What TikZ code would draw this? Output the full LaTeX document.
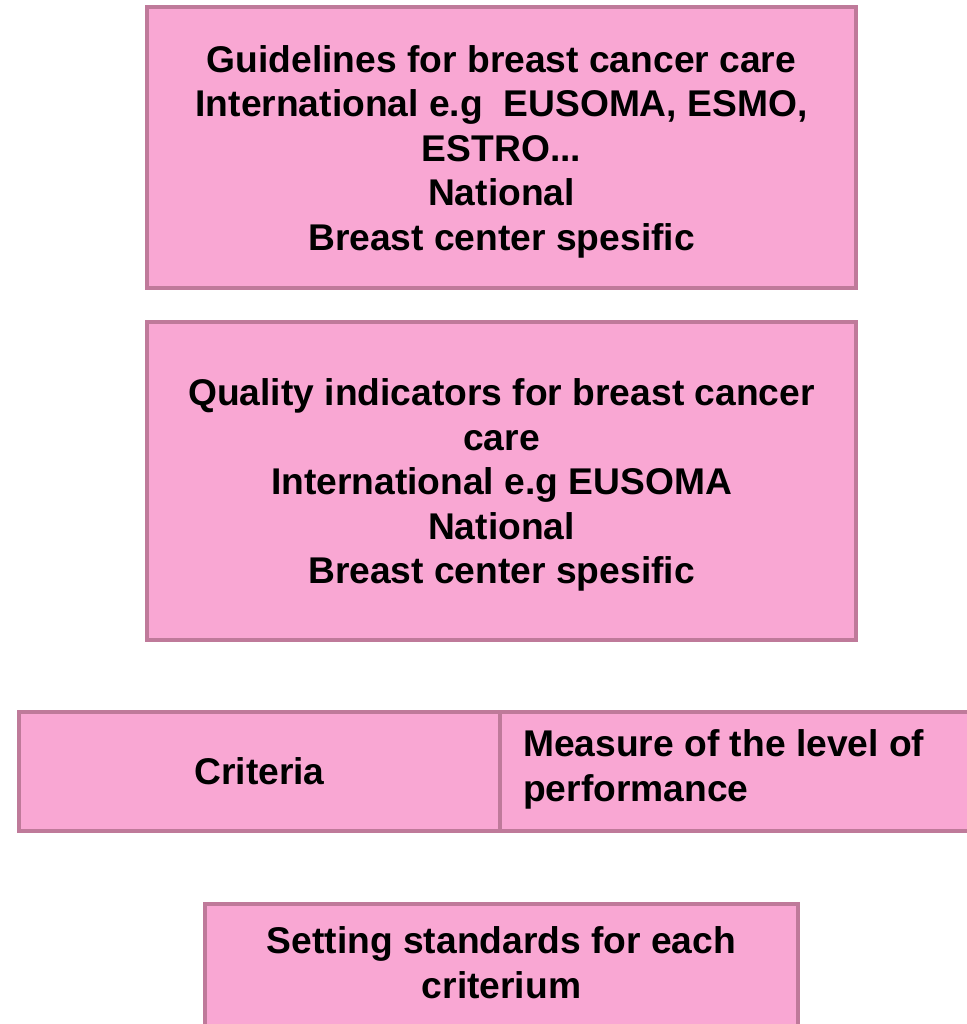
\documentclass[tikz,border=0pt]{standalone}
\usepackage{fontspec}
\setmainfont{Liberation Sans}
\definecolor{boxfill}{HTML}{F9A7D3}
\definecolor{boxline}{HTML}{BF7A9A}
\begin{document}
\begin{tikzpicture}[x=1pt,y=-1pt,
  box/.style={draw=boxline,fill=boxfill,line width=4.5pt,inner sep=0pt,outer sep=0pt},
  txt/.style={font=\fontsize{37.2}{44.5}\selectfont\bfseries,align=center,inner sep=0pt,text=black}]
\useasboundingbox (0,0) rectangle (966,1024);
\node[box,minimum width=709pt,minimum height=281pt] (g) at (501.5,147.5) {};
\node[txt] (gt) at (501.5,151.4) {Guidelines for breast cancer care\\International e.g\ \ EUSOMA, ESMO,\\ESTRO...\\National\\Breast center spesific};
\node[box,minimum width=709pt,minimum height=318pt] (q) at (501.5,481) {};
\node[txt] (qt) at (501.5,484.9) {Quality indicators for breast cancer\\care\\International e.g EUSOMA\\National\\Breast center spesific};
\node[box,minimum width=481pt,minimum height=119pt] (c) at (259.5,771.5) {};
\node[box,minimum width=480pt,minimum height=119pt] (m) at (740,771.5) {};
\node[txt] (ct) at (259.5,771.5) {Criteria};
\node[txt,align=left,anchor=west] (mt) at (523,769.6) {Measure of the level of\\performance};
\node[box,minimum width=593pt,minimum height=136pt] (s) at (501.5,972) {};
\node[txt] (st) at (501.5,962.7) {Setting standards for each\\criterium};
\end{tikzpicture}
\end{document}
